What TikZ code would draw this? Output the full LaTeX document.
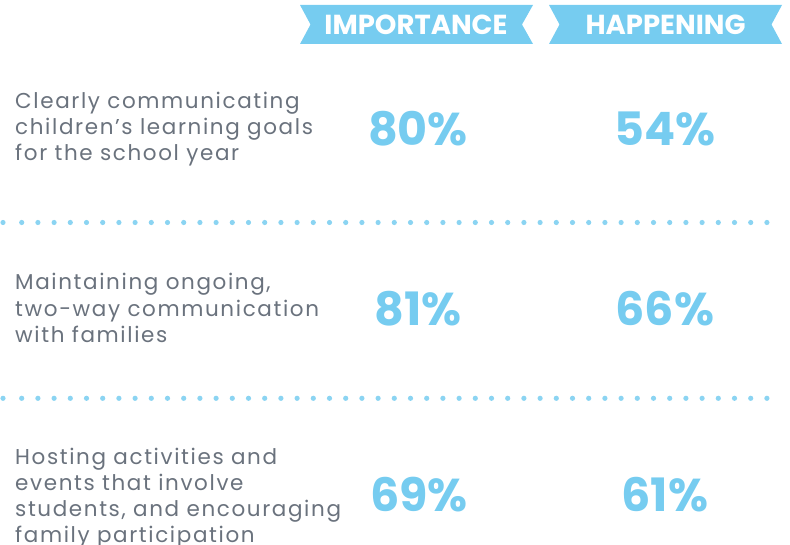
\documentclass[tikz,border=0pt]{standalone}
\usepackage{fontspec}
\setmainfont{Poppins}
\definecolor{skyblue}{HTML}{76CCF0}
\definecolor{slategray}{HTML}{6A727D}
\tikzset{
  ribbon/.style={fill=skyblue, draw=none},
  headtext/.style={text=white, font=\fontsize{27.5}{27.5}\selectfont\bfseries, inner sep=0pt, anchor=base},
  rowtext/.style={text=slategray, font=\fontsize{21.5}{26}\selectfont\addfontfeatures{LetterSpace=7.5}, align=left, inner sep=0pt, anchor=base west},
  pct/.style={text=skyblue, font=\fontsize{46}{46}\selectfont\bfseries, inner sep=0pt, anchor=base},
  dot/.style={fill=skyblue!85, draw=none}
}
\begin{document}
\begin{tikzpicture}[x=1pt,y=-1pt]
\useasboundingbox (0,0) rectangle (790,545);
% header ribbons
\fill[ribbon] (300,5) -- (533,5) -- (522,24.5) -- (533,44) -- (300,44) -- (310.5,24.5) -- cycle;
\fill[ribbon] (549,5) -- (782,5) -- (771.5,24.5) -- (782,44) -- (549,44) -- (559.5,24.5) -- cycle;
\node[headtext] (imp) at (416,35) {IMPORTANCE};
\node[headtext] (hap) at (665.5,35) {HAPPENING};
% rows (anchored on the last line)
\node[rowtext] (goals) at (15,161) {Clearly communicating\\children’s learning goals\\for the school year};
\node[pct] (goalsimp) at (418,146) {80\%};
\node[pct] (goalshap) at (665,146) {54\%};

\node[rowtext] (comm) at (15,342) {Maintaining ongoing,\\two-way communication\\with families};
\node[pct] (commimp) at (418,326) {81\%};
\node[pct] (commhap) at (665,326) {66\%};

\node[rowtext] (events) at (15,542) {Hosting activities and\\events that involve\\students, and encouraging\\family participation};
\node[pct] (eventsimp) at (419,511) {69\%};
\node[pct] (eventshap) at (665,511) {61\%};
% dotted separators
\foreach \y in {222.5,398.3}{
  \fill[dot] (3,\y) circle (2.6);
  \foreach \k in {0,...,46}
    \fill[dot] (21.7+16.2*\k,\y) circle (2.6);
}
\end{tikzpicture}
\end{document}
